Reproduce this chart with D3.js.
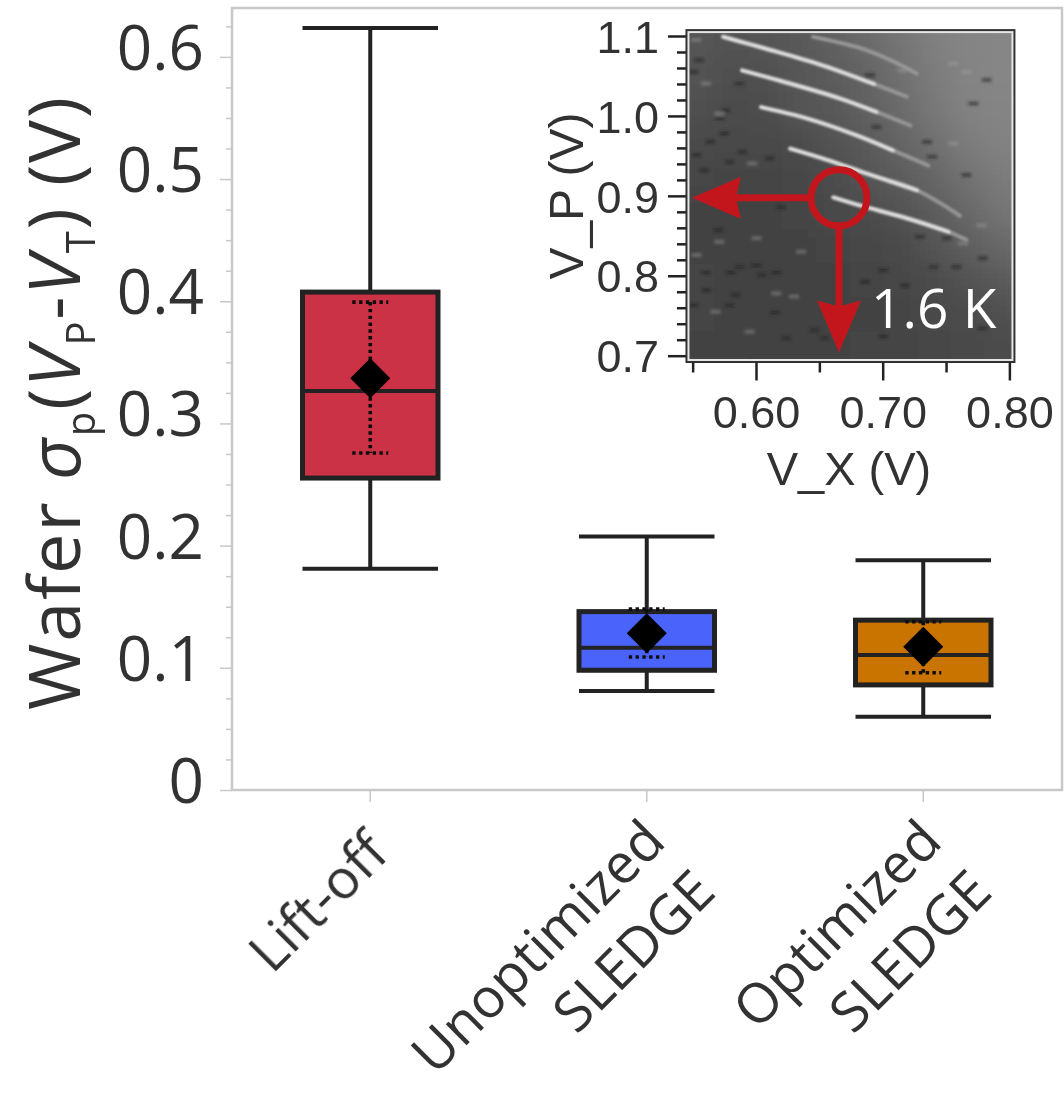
<!DOCTYPE html>
<html>
<head>
<meta charset="utf-8">
<title>Wafer threshold spread</title>
<script src="https://cdn.jsdelivr.net/npm/d3@7"></script>
<style>
  html, body { margin: 0; padding: 0; background: #fff; }
  svg { display: block; }
</style>
</head>
<body>
<div id="chart"></div>
<script>
// box plot values (volts)
const categories = ['Lift-off', 'Unoptimized', 'Optimized'];
const categoryLine2 = ['', 'SLEDGE', 'SLEDGE'];
const whiskerHigh = [0.6236, 0.2075, 0.188];
const whiskerLow = [0.181, 0.081, 0.06];
const q3 = [0.4075, 0.146, 0.139];
const q1 = [0.2553, 0.098, 0.086];
const medians = [0.3265, 0.1165, 0.1105];
const means = [0.337, 0.1283, 0.1173];
const sdHigh = [0.3993, 0.148, 0.1377];
const sdLow = [0.2758, 0.1088, 0.096];
const boxColors = ['#cb3245', '#4a64fb', '#c97300'];
const yTicks = [0, 0.1, 0.2, 0.3, 0.4, 0.5, 0.6];
const yMinorTicks = [0.025, 0.05, 0.075, 0.125, 0.15, 0.175, 0.225, 0.25, 0.275, 0.325, 0.35, 0.375,
                     0.425, 0.45, 0.475, 0.525, 0.55, 0.575, 0.625];

// inset: charge stability map
const insetXTicks = [0.6, 0.7, 0.8];
const insetXMinor = [0.55, 0.65, 0.75];
const insetYTicks = [0.7, 0.8, 0.9, 1.0, 1.1];
const insetYMinor = [0.72, 0.74, 0.76, 0.78, 0.82, 0.84, 0.86, 0.88, 0.92, 0.94, 0.96, 0.98,
                     1.02, 1.04, 1.06, 1.08];
// grey level of the map background, coarse cells, top row first
const mapGrey = [
  [92, 88, 84, 84, 90, 100, 108, 118, 128, 134, 134, 132],
  [88, 84, 82, 84, 88, 96, 106, 116, 128, 132, 134, 134],
  [84, 82, 80, 80, 86, 92, 100, 112, 124, 132, 134, 136],
  [84, 80, 76, 78, 84, 88, 96, 106, 120, 130, 132, 134],
  [78, 74, 72, 72, 76, 82, 90, 100, 112, 124, 130, 130],
  [72, 70, 68, 68, 70, 76, 84, 92, 102, 114, 124, 126],
  [68, 66, 66, 66, 68, 72, 76, 82, 92, 104, 116, 120],
  [68, 66, 66, 66, 66, 68, 70, 74, 84, 94, 104, 110],
  [68, 68, 66, 66, 66, 66, 68, 70, 76, 82, 90, 96],
  [68, 68, 66, 66, 66, 66, 66, 68, 72, 76, 80, 84],
  [68, 66, 66, 66, 66, 66, 68, 68, 70, 74, 76, 80],
  [72, 70, 70, 68, 68, 68, 70, 70, 72, 74, 76, 80]
];
// bright transition lines as [V_X, V_P], the last point of each is the faded tail
const streak1 = [[0.574, 1.099], [0.608, 1.084], [0.653, 1.063], [0.693, 1.040], [0.719, 1.024]];
const streak2 = [[0.589, 1.057], [0.619, 1.044], [0.666, 1.022], [0.695, 1.005], [0.722, 0.988]];
const streak3 = [[0.604, 1.011], [0.640, 0.997], [0.679, 0.976], [0.708, 0.957], [0.736, 0.938]];
const streak4 = [[0.627, 0.959], [0.656, 0.945], [0.687, 0.928], [0.727, 0.907], [0.761, 0.875]];
const streak5 = [[0.661, 0.898], [0.682, 0.888], [0.719, 0.872], [0.752, 0.855], [0.766, 0.845]];
const streak6 = [[0.645, 1.099], [0.680, 1.086], [0.706, 1.070], [0.727, 1.053]];
const streaks = [streak1, streak2, streak3, streak4, streak5];
// the most visible dark and pale specks of the map, [V_X, V_P]
const darkSpecks = [
  [0.5706, 0.857], [0.6005, 0.813], [0.5605, 0.804], [0.580, 0.804], [0.605, 0.801], [0.616, 0.804],
  [0.615, 0.754], [0.584, 0.776], [0.620, 0.886], [0.561, 0.782], [0.579, 0.763], [0.646, 0.732],
  [0.654, 0.722], [0.551, 0.763], [0.624, 0.722], [0.587, 0.811], [0.579, 0.9425], [0.575, 0.978],
  [0.551, 1.055], [0.571, 0.997], [0.564, 0.9675], [0.589, 0.955], [0.555, 1.070], [0.559, 0.932],
  [0.6105, 0.947], [0.587, 1.0405], [0.576, 1.007], [0.553, 0.951], [0.7005, 0.807], [0.7176, 0.788],
  [0.686, 0.7925], [0.7294, 0.849], [0.779, 0.822], [0.7505, 0.847], [0.7005, 0.724], [0.740, 0.811],
  [0.779, 0.734], [0.758, 0.811], [0.690, 1.051], [0.782, 1.045], [0.7715, 1.0155], [0.766, 0.926],
  [0.735, 0.9675], [0.695, 0.986], [0.739, 0.949]
];
const paleSpecks = [
  [0.6005, 0.847], [0.571, 0.8425], [0.630, 0.774], [0.568, 0.755], [0.595, 0.73], [0.6355, 0.83],
  [0.616, 0.778], [0.553, 0.826], [0.553, 1.095], [0.571, 1.003], [0.5605, 1.0405], [0.597, 0.9405],
  [0.778, 0.863], [0.7635, 0.8405], [0.756, 1.0655], [0.766, 1.055], [0.716, 1.057], [0.756, 0.9655]
];
const marker = [0.6655, 0.8975];

const width = 1064, height = 1098;
const margin = {top: 8, right: 2, bottom: 308, left: 232};
const ink = '#222';
const textInk = '#333';
const axisGrey = '#c8c8c8';
const mainFont = '"Open Sans", sans-serif';
const insetFont = '"Liberation Sans", Arial, sans-serif';

const svg = d3.select('#chart').append('svg')
  .attr('width', width)
  .attr('height', height)
  .attr('viewBox', [0, 0, width, height]);

const defs = svg.append('defs');
defs.append('filter').attr('id', 'soft').append('feGaussianBlur').attr('stdDeviation', 0.6);
defs.append('filter').attr('id', 'mapblur').append('feGaussianBlur').attr('stdDeviation', 13);
defs.append('filter').attr('id', 'speckblur').append('feGaussianBlur').attr('stdDeviation', 1.6);
defs.append('filter').attr('id', 'streakblur').append('feGaussianBlur').attr('stdDeviation', 1.3);

const root = svg.append('g').attr('filter', 'url(#soft)');

// main scales
const x = d3.scaleBand().domain(categories).range([margin.left, width - margin.right - 0.5]);
const y = d3.scaleLinear().domain([0, 0.64]).range([height - margin.bottom, margin.top]);
const xc = d => x(d) + x.bandwidth() / 2;
const boxWidth = x.bandwidth() * 0.49;

// frame
root.append('rect')
  .attr('x', margin.left).attr('y', margin.top)
  .attr('width', width - margin.left - margin.right).attr('height', height - margin.top - margin.bottom)
  .attr('fill', 'none').attr('stroke', axisGrey).attr('stroke-width', 2.5);

// y axis
const yAxis = root.append('g').attr('transform', `translate(${margin.left},0)`);
yAxis.call(d3.axisLeft(y).tickValues(yTicks).tickSize(12).tickFormat(d => d === 0 ? '0' : d3.format('.1f')(d)));
yAxis.select('.domain').remove();
yAxis.selectAll('line').attr('stroke', axisGrey).attr('stroke-width', 1.5);
yAxis.selectAll('text')
  .attr('x', -28).attr('dy', '0.2em')
  .attr('font-family', mainFont).attr('font-size', 62).attr('fill', textInk);

const yMinor = root.append('g').attr('transform', `translate(${margin.left},0)`);
yMinor.call(d3.axisLeft(y).tickValues(yMinorTicks).tickSize(6).tickFormat(''));
yMinor.select('.domain').remove();
yMinor.selectAll('line').attr('stroke', axisGrey).attr('stroke-width', 1.5);

// x axis
const xAxis = root.append('g').attr('transform', `translate(0,${y(0)})`);
xAxis.call(d3.axisBottom(x).tickSize(12).tickFormat(''));
xAxis.select('.domain').remove();
xAxis.selectAll('line').attr('stroke', axisGrey).attr('stroke-width', 1.5);

categories.forEach((c, i) => {
  const ax = xc(c) + 21;
  const ay = y(0) + (categoryLine2[i] ? 54 : 66);
  const t = root.append('text')
    .attr('transform', `translate(${ax},${ay}) rotate(-45)`)
    .attr('text-anchor', 'end')
    .attr('font-family', mainFont).attr('font-size', 55).attr('fill', textInk);
  t.append('tspan').attr('x', 0).attr('y', 0).text(c);
  if (categoryLine2[i]) t.append('tspan').attr('x', 0).attr('y', 71).text(categoryLine2[i]);
});

// y title
const title = root.append('text')
  .attr('transform', 'translate(80,710) rotate(-90)')
  .attr('font-family', mainFont).attr('font-size', 72).attr('fill', textInk)
  .attr('letter-spacing', 1.8);
const titleParts = [
  ['Wafer ', false, 0], ['σ', true, 0], ['p', false, 1], ['(', false, 0], ['V', true, 0], ['P', false, 1],
  ['-', false, 0], ['V', true, 0], ['T', false, 1], [') (V)', false, 0]
];
let lastShift = 0;
titleParts.forEach(p => {
  const shift = p[2] ? 15 : 0;
  title.append('tspan')
    .attr('dy', shift - lastShift)
    .attr('font-style', p[1] ? 'italic' : 'normal')
    .attr('font-size', p[2] ? 40 : 72)
    .text(p[0]);
  lastShift = shift;
});

// boxes
categories.forEach((c, i) => {
  const cx = xc(c);
  const g = root.append('g').attr('stroke', ink);
  g.append('line').attr('x1', cx).attr('x2', cx).attr('y1', y(whiskerHigh[i])).attr('y2', y(whiskerLow[i]))
    .attr('stroke-width', 4);
  [whiskerHigh[i], whiskerLow[i]].forEach(v => {
    g.append('line').attr('x1', cx - boxWidth / 2).attr('x2', cx + boxWidth / 2)
      .attr('y1', y(v)).attr('y2', y(v)).attr('stroke-width', 4);
  });
  g.append('rect')
    .attr('x', cx - boxWidth / 2).attr('width', boxWidth)
    .attr('y', y(q3[i])).attr('height', y(q1[i]) - y(q3[i]))
    .attr('fill', boxColors[i]).attr('stroke-width', 5);
  g.append('line').attr('x1', cx - boxWidth / 2).attr('x2', cx + boxWidth / 2)
    .attr('y1', y(medians[i])).attr('y2', y(medians[i])).attr('stroke-width', 4);
  // dotted sd bars
  const dots = root.append('g').attr('stroke', '#111').attr('stroke-width', 3.6).attr('stroke-dasharray', '3.4 3.4');
  dots.append('line').attr('x1', cx).attr('x2', cx).attr('y1', y(sdHigh[i])).attr('y2', y(sdLow[i]));
  [sdHigh[i], sdLow[i]].forEach(v => {
    dots.append('line').attr('x1', cx - 18).attr('x2', cx + 18).attr('y1', y(v)).attr('y2', y(v));
  });
  root.append('path')
    .attr('d', d3.symbol(d3.symbolSquare, 800)())
    .attr('transform', `translate(${cx},${y(means[i])}) rotate(45)`)
    .attr('fill', '#000');
});

// inset scales
const ix = d3.scaleLinear().domain([0.6, 0.8]).range([756, 1009.4]);
const iy = d3.scaleLinear().domain([0.7, 1.1]).range([355.7, 36]);
const inset = {x0: ix(0.5463), x1: ix(0.8028), y0: iy(1.1055), y1: iy(0.694)};

const insetG = root.append('g');
insetG.append('clipPath').attr('id', 'mapclip').append('rect')
  .attr('x', inset.x0).attr('y', inset.y0).attr('width', inset.x1 - inset.x0).attr('height', inset.y1 - inset.y0);

const map = insetG.append('g').attr('clip-path', 'url(#mapclip)');
const nRows = mapGrey.length, nCols = mapGrey[0].length;
// cells overshoot the frame so that the blur does not fade out at the edges
const cellCol = d3.scaleBand().domain(d3.range(nCols)).range([inset.x0 - 40, inset.x1 + 40]);
const cellRow = d3.scaleBand().domain(d3.range(nRows)).range([inset.y0 - 40, inset.y1 + 40]);
const cells = map.append('g').attr('filter', 'url(#mapblur)');
mapGrey.forEach((row, r) => {
  row.forEach((v, c) => {
    cells.append('rect')
      .attr('x', cellCol(c) - 1).attr('y', cellRow(r) - 1)
      .attr('width', cellCol.bandwidth() + 2).attr('height', cellRow.bandwidth() + 2)
      .attr('fill', d3.rgb(v, v, v));
  });
});

const specks = map.append('g').attr('filter', 'url(#speckblur)').attr('stroke-width', 4);
darkSpecks.forEach(d => {
  specks.append('line')
    .attr('x1', ix(d[0]) - 5).attr('x2', ix(d[0]) + 5).attr('y1', iy(d[1])).attr('y2', iy(d[1]))
    .attr('stroke', '#1e1e1e').attr('stroke-opacity', 0.55);
});
paleSpecks.forEach(d => {
  specks.append('line')
    .attr('x1', ix(d[0]) - 5).attr('x2', ix(d[0]) + 5).attr('y1', iy(d[1])).attr('y2', iy(d[1]))
    .attr('stroke', '#a6a6a6').attr('stroke-opacity', 0.4);
});

const streakLine = d3.line().x(d => ix(d[0])).y(d => iy(d[1])).curve(d3.curveCatmullRom);
const streakG = map.append('g').attr('filter', 'url(#streakblur)').attr('fill', 'none').attr('stroke-linecap', 'round');
streakG.append('path').attr('d', streakLine(streak6)).attr('stroke', '#989898').attr('stroke-width', 3.8);
streaks.forEach(s => {
  streakG.append('path').attr('d', streakLine(s)).attr('stroke', '#969696').attr('stroke-width', 4);
  streakG.append('path').attr('d', streakLine(s.slice(0, -1))).attr('stroke', '#dedede').attr('stroke-width', 4);
});

// inset frame, dark outside and a pale line inside
insetG.append('rect')
  .attr('x', inset.x0).attr('y', inset.y0).attr('width', inset.x1 - inset.x0).attr('height', inset.y1 - inset.y0)
  .attr('fill', 'none').attr('stroke', '#e6e6e6').attr('stroke-width', 3);
insetG.append('rect')
  .attr('x', inset.x0 - 1.5).attr('y', inset.y0 - 1.5).attr('width', inset.x1 - inset.x0 + 3).attr('height', inset.y1 - inset.y0 + 3)
  .attr('fill', 'none').attr('stroke', '#333').attr('stroke-width', 2);

const styleInsetAxis = g => {
  g.select('.domain').remove();
  g.selectAll('line').attr('stroke', ink).attr('stroke-width', 2.5);
  g.selectAll('text').attr('font-family', insetFont).attr('font-size', 45).attr('fill', textInk);
};

insetG.append('g').attr('transform', `translate(${inset.x0 - 2},0)`)
  .call(d3.axisLeft(iy).tickValues(insetYTicks).tickSize(18).tickFormat(d3.format('.1f')))
  .call(styleInsetAxis)
  .call(g => g.selectAll('text').attr('x', -27).attr('dy', '0.36em'));
insetG.append('g').attr('transform', `translate(${inset.x0 - 2},0)`)
  .call(d3.axisLeft(iy).tickValues(insetYMinor).tickSize(9).tickFormat(''))
  .call(styleInsetAxis);
insetG.append('g').attr('transform', `translate(0,${inset.y1 + 2})`)
  .call(d3.axisBottom(ix).tickValues(insetXTicks).tickSize(18).tickFormat(d3.format('.2f')))
  .call(styleInsetAxis)
  .call(g => g.selectAll('text').attr('y', 34).attr('dy', '0.71em'));
insetG.append('g').attr('transform', `translate(0,${inset.y1 + 2})`)
  .call(d3.axisBottom(ix).tickValues(insetXMinor).tickSize(10).tickFormat(''))
  .call(styleInsetAxis);

insetG.append('text')
  .attr('x', 849).attr('y', 485).attr('text-anchor', 'middle')
  .attr('font-family', insetFont).attr('font-size', 47).attr('fill', textInk)
  .text('V_X (V)');
insetG.append('text')
  .attr('transform', 'translate(583,196) rotate(-90)').attr('text-anchor', 'middle')
  .attr('font-family', insetFont).attr('font-size', 48).attr('fill', textInk)
  .text('V_P (V)');

// red marker and arrows
const red = '#c2191f';
const mx = ix(marker[0]), my = iy(marker[1]);
const arrows = insetG.append('g');
arrows.append('circle').attr('cx', mx).attr('cy', my).attr('r', 28)
  .attr('fill', 'none').attr('stroke', red).attr('stroke-width', 7);
arrows.append('line').attr('x1', mx - 27).attr('x2', inset.x0 + 40).attr('y1', my).attr('y2', my)
  .attr('stroke', red).attr('stroke-width', 7);
arrows.append('line').attr('x1', mx).attr('x2', mx).attr('y1', my + 27).attr('y2', inset.y1 - 50)
  .attr('stroke', red).attr('stroke-width', 7);
arrows.append('path')
  .attr('d', d3.line()([[inset.x0 + 4, my], [inset.x0 + 53, my - 21], [inset.x0 + 48, my], [inset.x0 + 53, my + 21]]) + 'Z')
  .attr('fill', red);
arrows.append('path')
  .attr('d', d3.line()([[mx, inset.y1 - 8], [mx - 22, inset.y1 - 60], [mx, inset.y1 - 54], [mx + 22, inset.y1 - 60]]) + 'Z')
  .attr('fill', red);

insetG.append('text')
  .attr('x', 871).attr('y', 328)
  .attr('font-family', mainFont).attr('font-size', 55).attr('fill', '#fff')
  .text('1.6 K');
</script>
</body>
</html>
